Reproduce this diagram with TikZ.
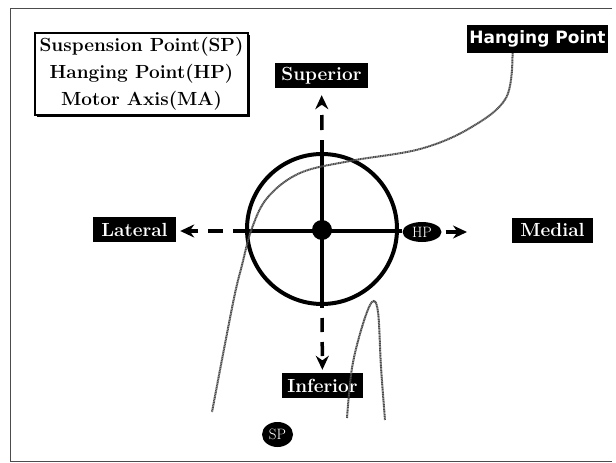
\documentclass[tikz,border=0pt]{standalone}
\usepackage{fontspec}
\newfontfamily\tagfont{DejaVu Sans}
\usetikzlibrary{arrows.meta,positioning,calc,shadows,shapes.geometric}

\tikzset{
  dirbox/.style={fill=black, text=white, font=\bfseries\fontsize{19}{21}\selectfont,
    inner sep=0pt, minimum height=25pt},
  tagdot/.style={ellipse, fill=black, text=white, inner sep=0pt,
    font=\fontsize{15}{16}\selectfont},
  dirarrow/.style={line width=3.5pt, -{Stealth[length=14pt,width=13pt]}},
  rope/.style={draw=black!70, line width=2pt, dash pattern=on 1.2pt off 0.5pt}
}

\begin{document}
\begin{tikzpicture}[x=1pt, y=-1pt]
    \useasboundingbox (0,0) rectangle (616,463);

    % frame
    \draw[black!70, line width=1pt] (612,8) -- (10,8) -- (10,461) -- (612,461);

    % legend
    \node[draw, line width=1.3pt, fill=white, minimum width=213pt, minimum height=82pt,
      drop shadow={shadow xshift=2pt, shadow yshift=-2pt, fill=black, opacity=1},
      align=center, font=\bfseries\fontsize{19}{27}\selectfont] (legend) at (141.5,74)
      {Suspension Point(SP)\\Hanging Point(HP)\\Motor Axis(MA)};

    % direction labels
    \node[dirbox, minimum width=93pt] (sup) at (321.5,75.5) {Superior};
    \node[dirbox, minimum width=83pt] (lat) at (134.5,229.5) {Lateral};
    \node[dirbox, minimum width=81pt] (med) at (552.5,230) {Medial};
    \node[dirbox, minimum width=81pt] (inf) at (322.5,385.5) {Inferior};
    \node[fill=black, text=white, inner sep=0pt, minimum width=141pt, minimum height=28pt,
      font=\tagfont\bfseries\fontsize{17}{19}\selectfont] (hang) at (537.5,39) {Hanging Point};

    % motor
    \draw[line width=4pt] (322,229) circle[radius=75];
    \node[tagdot, minimum width=39pt, minimum height=20pt] (hp) at (422,232) {HP};
    \node[tagdot, minimum width=31pt, minimum height=25pt] (sp) at (277.5,434.5) {SP};
    \coordinate (axl) at (233,231);
    \coordinate (axt) at (322,140);
    \coordinate (axb) at (322,308);
    \coordinate (medtip) at (467,232);
    \draw[line width=3.5pt] (axl) -- (axl -| hp.west);
    \draw[line width=3.5pt] (axt) -- (axb);
    \fill (322,230) circle[radius=10];

    % arrows
    \draw[dirarrow, dash pattern=on 15pt off 10pt, dash phase=15pt, shorten >=4pt] (axl) -- (axl -| lat.east);
    \draw[dirarrow, dash pattern=on 15pt off 10pt, dash phase=15pt, shorten >=7pt] (axt) -- (sup);
    \draw[dirarrow, dash pattern=on 14pt off 10pt, dash phase=14pt, shorten >=3pt] (axb) -- (inf);
    \draw[dirarrow, shorten <=4pt] (hp) -- (medtip);

    % ropes
    \draw[rope] plot[smooth, tension=0.6] coordinates {([xshift=-25pt]hang.south) (506,98)
      (470,128) (420,149) (350,161) (300,173) (268,197) (252,228) (242,265) (233,303) (212,412)};
    \draw[rope] plot[smooth, tension=0.6] coordinates {(347,418) (352,368) (362,327)
      (372,302) (378,312) (381,367) (385,420)};
\end{tikzpicture}
\end{document}
